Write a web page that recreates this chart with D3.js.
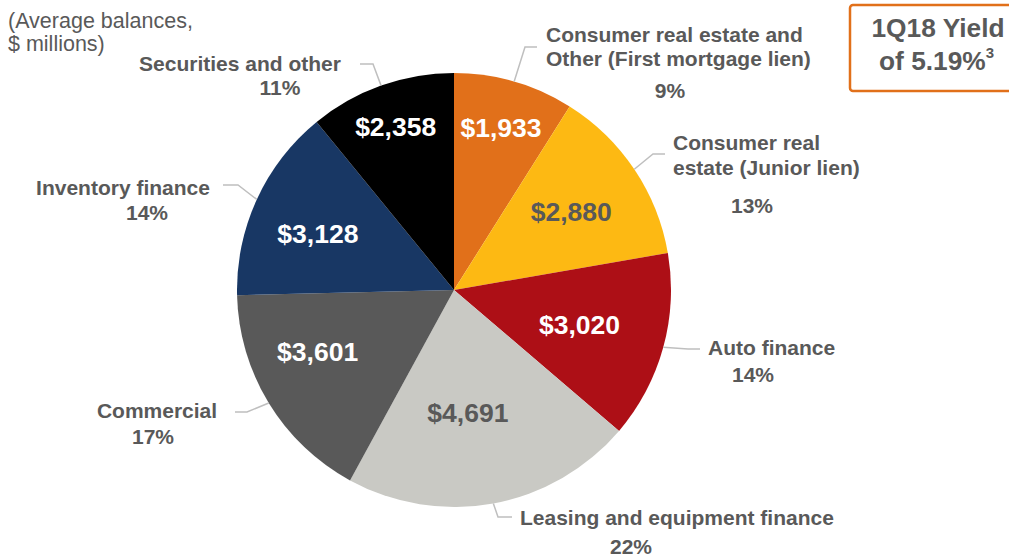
<!DOCTYPE html>
<html>
<head>
<meta charset="utf-8">
<script src="https://cdn.jsdelivr.net/npm/d3@7/dist/d3.min.js"></script>
<style>
  html, body { margin: 0; padding: 0; background: #ffffff; }
  svg { display: block; font-family: "Liberation Sans", Arial, sans-serif; }
</style>
</head>
<body>
<svg id="chart" width="1009" height="559"></svg>
<script>
// ---- Data ----
const categories = [
  "Consumer real estate and Other (First mortgage lien)",
  "Consumer real estate (Junior lien)",
  "Auto finance",
  "Leasing and equipment finance",
  "Commercial",
  "Inventory finance",
  "Securities and other"
];
const values = [1933, 2880, 3020, 4691, 3601, 3128, 2358];
const valueLabels = ["$1,933", "$2,880", "$3,020", "$4,691", "$3,601", "$3,128", "$2,358"];
const percentLabels = ["9%", "13%", "14%", "22%", "17%", "14%", "11%"];
const colors = ["#E1701A", "#FDB913", "#AD0F16", "#C9C9C4", "#595959", "#183764", "#000000"];
const valueTextColors = ["#ffffff", "#595959", "#ffffff", "#595959", "#ffffff", "#ffffff", "#ffffff"];

// ---- Layout ----
const W = 1009, H = 559;
const cx = 454, cy = 290, R = 217;
const textGray = "#595959";
const leaderGray = "#BFBFBF";
const labelSize = 21;

const svg = d3.select("#chart");
const g = svg.append("g").attr("transform", `translate(${cx},${cy})`);

const pie = d3.pie().sort(null).value(d => d)(values);
const arc = d3.arc().innerRadius(0).outerRadius(R);

g.selectAll("path.slice")
  .data(pie)
  .join("path")
  .attr("class", "slice")
  .attr("d", arc)
  .attr("fill", (d, i) => colors[i]);

// value label radii (fraction of R) and small angle tweaks (deg)
const valueLabelPos = [
  { r: 0.78, da: 0 },
  { r: 0.65, da: 0 },
  { r: 0.60, da: 0 },
  { r: 0.57, da: 4 },
  { r: 0.69, da: 7 },
  { r: 0.68, da: -2 },
  { r: 0.80, da: 0 }
];
g.selectAll("text.val")
  .data(pie)
  .join("text")
  .attr("class", "val")
  .attr("x", (d, i) => {
    const a = (d.startAngle + d.endAngle) / 2 + valueLabelPos[i].da * Math.PI / 180;
    return Math.sin(a) * R * valueLabelPos[i].r;
  })
  .attr("y", (d, i) => {
    const a = (d.startAngle + d.endAngle) / 2 + valueLabelPos[i].da * Math.PI / 180;
    return -Math.cos(a) * R * valueLabelPos[i].r;
  })
  .attr("dy", "0.36em")
  .attr("text-anchor", "middle")
  .attr("font-size", 26.5)
  .attr("font-weight", "bold")
  .attr("fill", (d, i) => valueTextColors[i])
  .text((d, i) => valueLabels[i]);

// leader lines: start at arc edge mid-angle, then elbow and end (absolute coords)
const leaders = [
  [[525, 47], [537, 47]],
  [[653, 154], [665, 154]],
  [[688, 349], [700, 349]],
  [[498, 517], [512, 517]],
  [[247, 412], [235, 412]],
  [[238, 185], [223, 185]],
  [[373, 64], [360, 64]]
];
pie.forEach((d, i) => {
  const a = (d.startAngle + d.endAngle) / 2;
  const sx = cx + Math.sin(a) * R, sy = cy - Math.cos(a) * R;
  const pts = [[sx, sy]].concat(leaders[i]);
  svg.append("path")
    .attr("d", d3.line()(pts))
    .attr("fill", "none")
    .attr("stroke", leaderGray)
    .attr("stroke-width", 1.5);
});

// category labels (split lines) and percent labels
const labelLines = [
  [{ t: "Consumer real estate and", x: 546, y: 42, a: "start" },
   { t: "Other (First mortgage lien)", x: 546, y: 66, a: "start" }],
  [{ t: "Consumer real", x: 673, y: 150, a: "start" },
   { t: "estate (Junior lien)", x: 673, y: 175, a: "start" }],
  [{ t: "Auto finance", x: 708, y: 355, a: "start" }],
  [{ t: "Leasing and equipment finance", x: 520, y: 525, a: "start" }],
  [{ t: "Commercial", x: 157, y: 418, a: "middle" }],
  [{ t: "Inventory finance", x: 123, y: 195, a: "middle" }],
  [{ t: "Securities and other", x: 240, y: 71, a: "middle" }]
];
const pctPos = [
  [670, 98], [752, 213], [753, 382], [631, 554], [153, 444], [147, 220], [280, 95]
];
labelLines.forEach((lines, i) => {
  lines.forEach(l => {
    svg.append("text")
      .attr("x", l.x).attr("y", l.y)
      .attr("text-anchor", l.a)
      .attr("font-size", labelSize)
      .attr("font-weight", "bold")
      .attr("fill", textGray)
      .text(l.t);
  });
  svg.append("text")
    .attr("x", pctPos[i][0]).attr("y", pctPos[i][1])
    .attr("text-anchor", "middle")
    .attr("font-size", labelSize)
    .attr("font-weight", "bold")
    .attr("fill", textGray)
    .text(percentLabels[i]);
});

// subtitle
const sub = svg.append("text")
  .attr("font-size", 21.5)
  .attr("fill", textGray);
sub.append("tspan").attr("x", 8).attr("y", 28).text("(Average balances,");
sub.append("tspan").attr("x", 8).attr("y", 51).text("$ millions)");

// yield box
svg.append("rect")
  .attr("x", 850).attr("y", 5)
  .attr("width", 175).attr("height", 86)
  .attr("rx", 3)
  .attr("fill", "#ffffff")
  .attr("stroke", "#E1701A")
  .attr("stroke-width", 2.5);
svg.append("text")
  .attr("x", 938).attr("y", 37)
  .attr("text-anchor", "middle")
  .attr("font-size", 26.3)
  .attr("font-weight", "bold")
  .attr("fill", textGray)
  .text("1Q18 Yield");
const y2 = svg.append("text")
  .attr("x", 879).attr("y", 70)
  .attr("font-size", 26.3)
  .attr("font-weight", "bold")
  .attr("fill", textGray);
y2.append("tspan").text("of 5.19%");
y2.append("tspan").attr("dy", -12).attr("font-size", 15).text("3");
</script>
</body>
</html>
